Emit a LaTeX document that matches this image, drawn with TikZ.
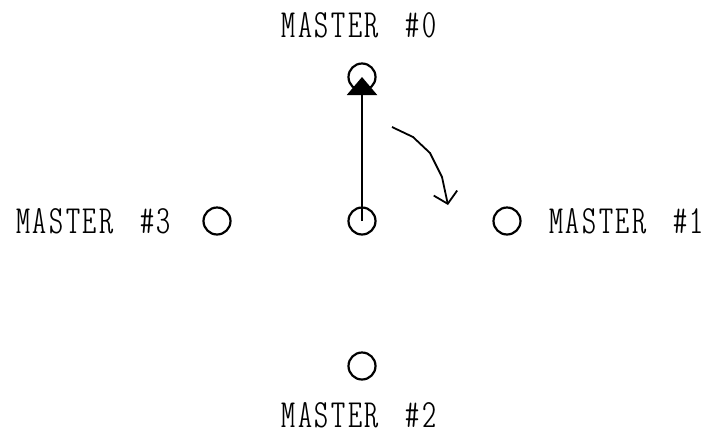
\documentclass[tikz,border=0pt]{standalone}
\usepackage{tikz}
\usetikzlibrary{positioning, arrows.meta}

% spaced-out label text
\newlength{\lblsp}
\setlength{\lblsp}{2.6pt}
\def\trk#1{\trkA#1\relax}
\def\trkA#1#2{#1\ifx#2\relax\else\kern\lblsp\expandafter\trkA\expandafter#2\fi}
\newcommand{\mastername}[1]{\trk{MASTER}\hspace{27pt}\trk{\##1}}

\tikzset{
  station/.style={circle, draw, line width=2.2pt, minimum size=27pt, inner sep=0pt},
  lbl/.style={inner sep=0pt, anchor=base, font=\fontfamily{lmtt}\fontseries{lc}\fontsize{40}{40}\selectfont}
}

\begin{document}
\begin{tikzpicture}[x=1pt, y=-1pt]
  \useasboundingbox (0,0) rectangle (704,432);

  % Stations
  \node[station] (c) at (362,221) {};
  \node[station] (m0) at (362,77) {};
  \node[station] (m1) at (507,221) {};
  \node[station] (m2) at (362,366) {};
  \node[station] (m3) at (217,221) {};

  % Labels
  \node[lbl] (l0) at (359,37) {\mastername{0}};
  \node[lbl, anchor=base west] (l1) at (549,233) {\mastername{1}};
  \node[lbl] (l2) at (359,427) {\mastername{2}};
  \node[lbl, anchor=base east] (l3) at (171,233) {\mastername{3}};

  % Token passed up to master #0
  \draw[line width=2.2pt, -{Triangle[length=18pt, width=30pt]}] (c.center) -- (m0.center);

  % Rotation arrow
  \coordinate (r0) at (392,127);
  \coordinate (r1) at (448,205);
  \draw[line width=1.8pt, -{Straight Barb[length=11pt, width=24pt, line width=1.8pt]}]
    (r0) -- (413,137) -- (430,153) -- (442,177) -- (r1);
\end{tikzpicture}
\end{document}
